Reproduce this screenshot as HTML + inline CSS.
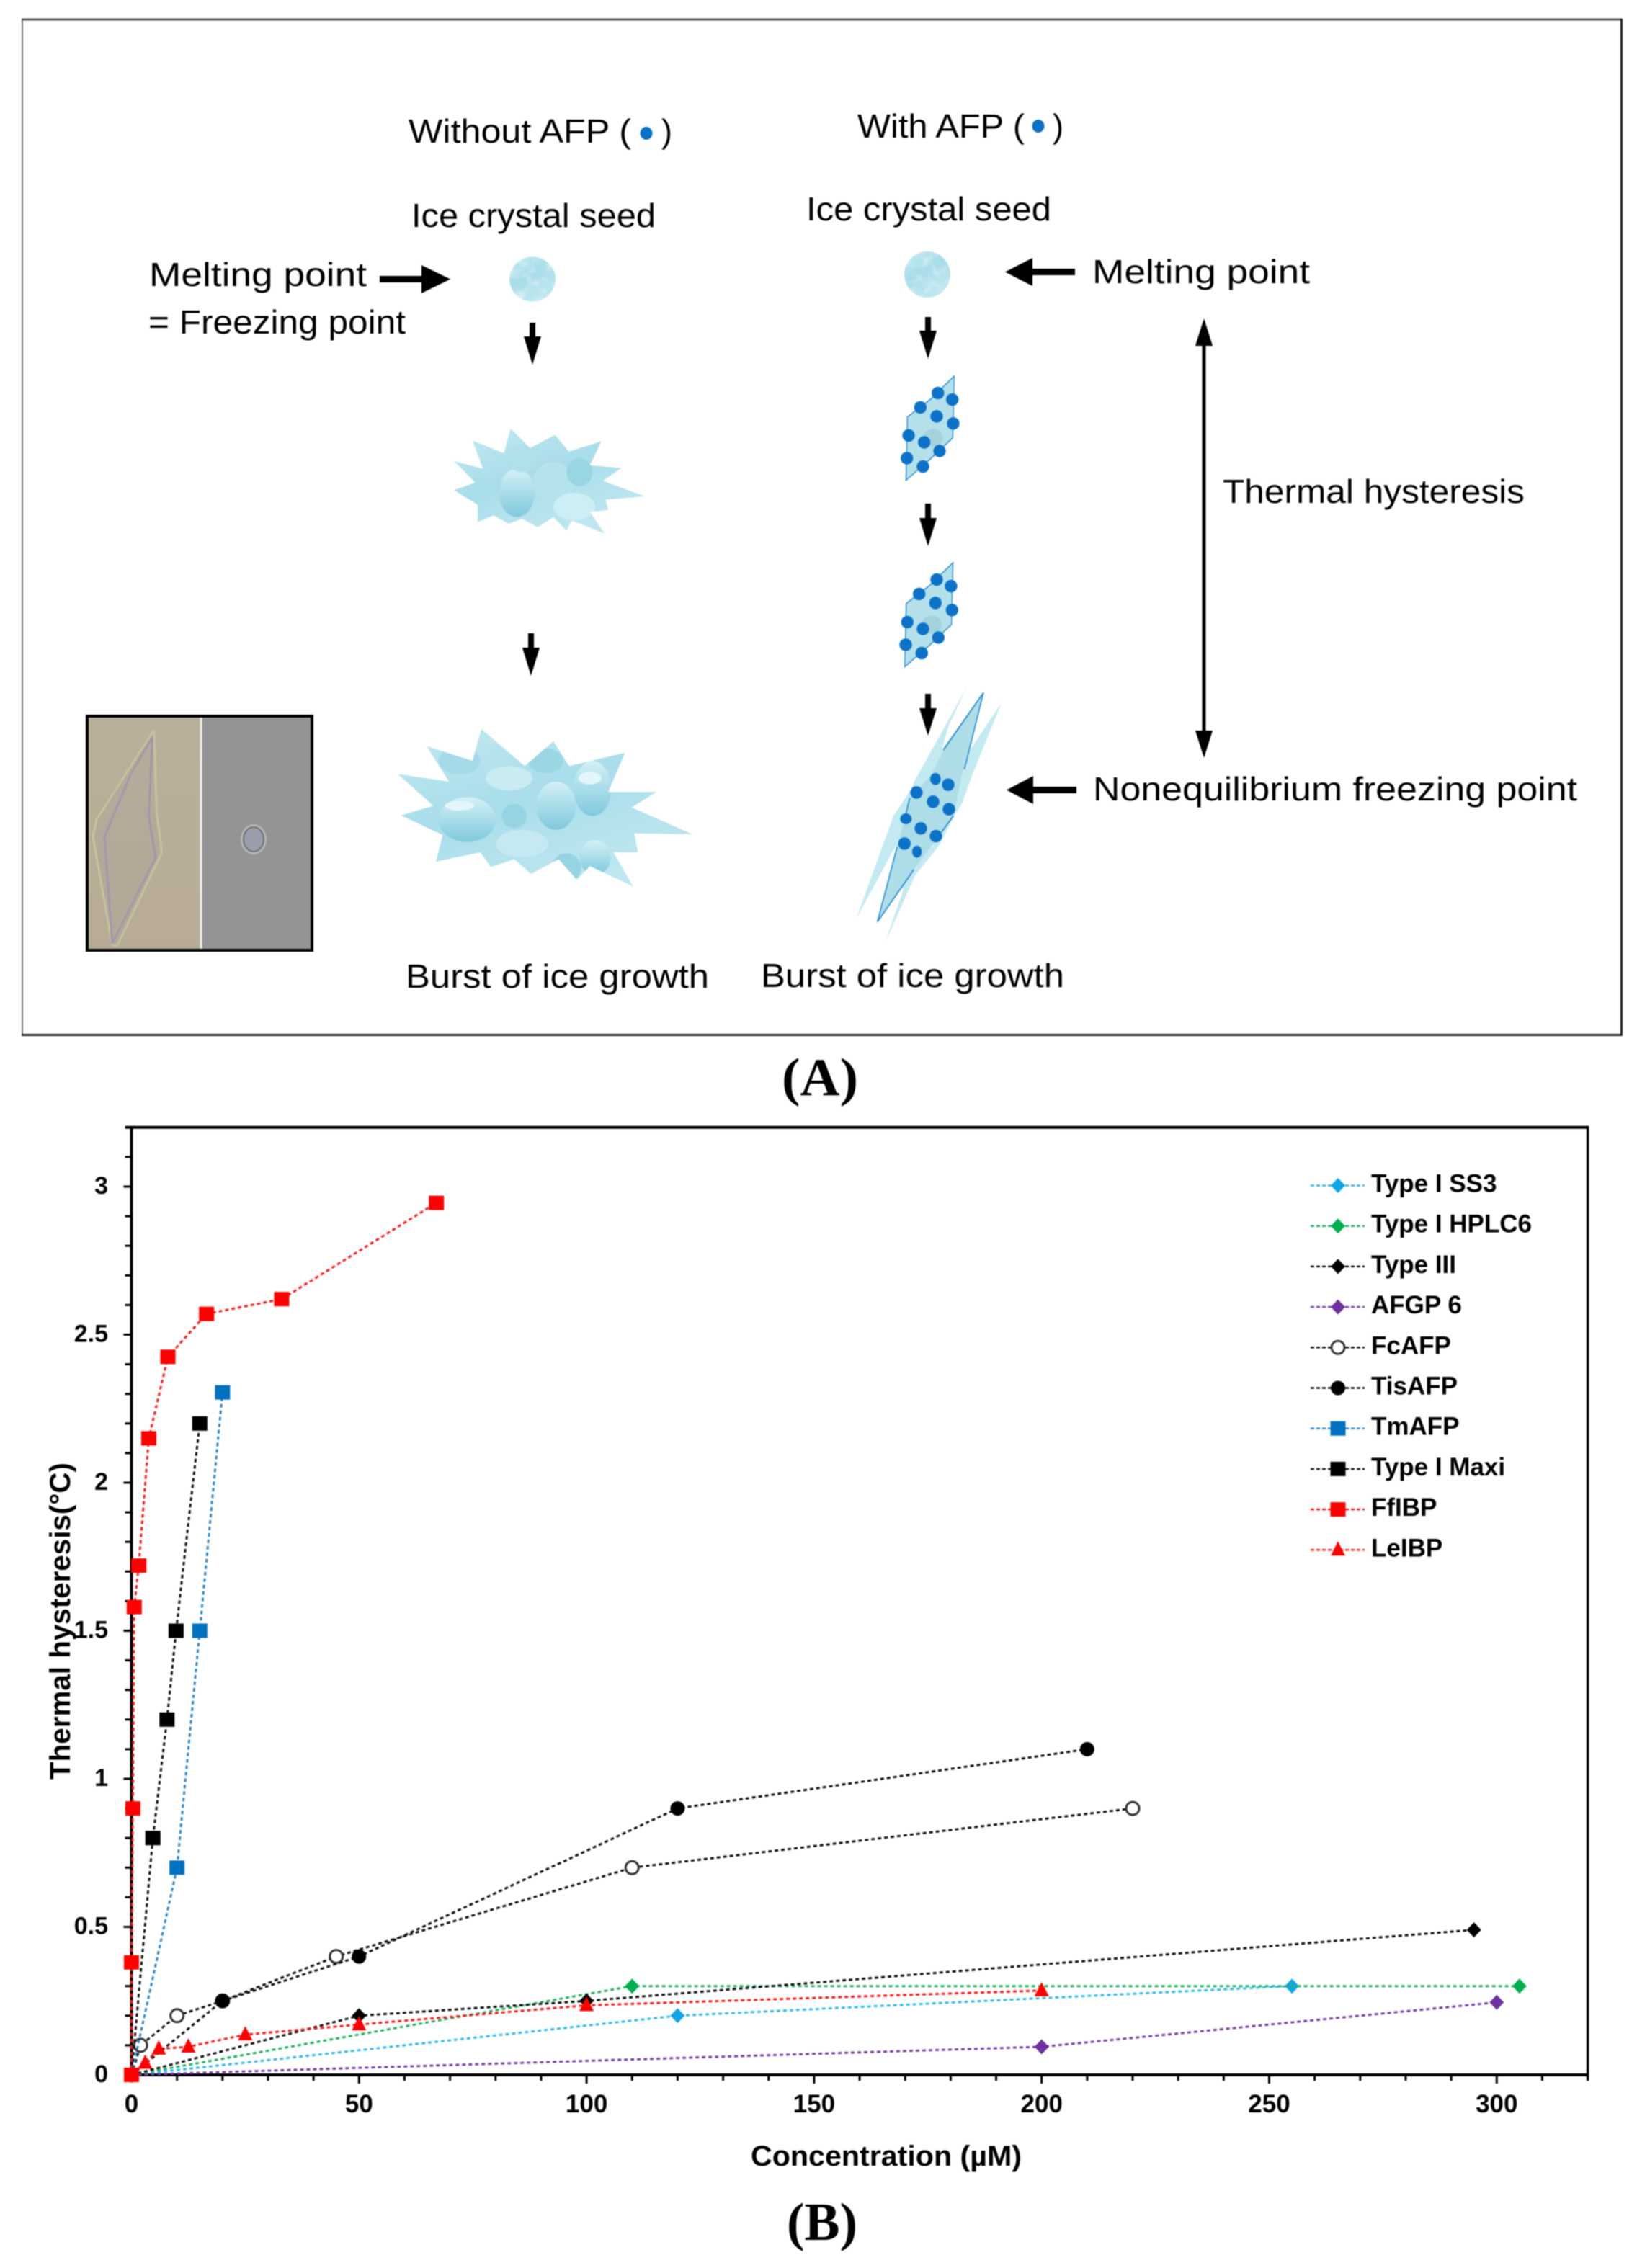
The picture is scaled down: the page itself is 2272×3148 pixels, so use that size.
<!DOCTYPE html>
<html lang="en">
<head>
<meta charset="utf-8">
<title>Antifreeze protein thermal hysteresis</title>
<style>
html,body{margin:0;padding:0;background:#fff;width:2272px;height:3148px;overflow:hidden}
svg{display:block;filter:blur(.7px)}
.cal{font-family:"Liberation Sans",sans-serif;font-size:46px;fill:#000}
.ax{font-family:"Liberation Sans",sans-serif;font-weight:bold;fill:#000}
.ser{font-family:"Liberation Serif",serif;font-weight:bold;font-size:74px;fill:#000}
</style>
</head>
<body>
<svg id="fig" xmlns="http://www.w3.org/2000/svg" width="2272" height="3148" viewBox="0 0 2272 3148">
<defs>
<linearGradient id="ice" x1="0" y1="0" x2="0.6" y2="1"><stop offset="0" stop-color="#c4eaf2"/><stop offset=".5" stop-color="#a8dde9"/><stop offset="1" stop-color="#bfe7f0"/></linearGradient>
<linearGradient id="drop" x1="0" y1="0" x2="0" y2="1"><stop offset="0" stop-color="#d3f0f6"/><stop offset="1" stop-color="#7fc9dc"/></linearGradient>
<linearGradient id="tan" x1="0" y1="0" x2="0" y2="1"><stop offset="0" stop-color="#b8b09a"/><stop offset="1" stop-color="#b8ab95"/></linearGradient>
<filter id="mottle" x="0" y="0" width="100%" height="100%">
  <feTurbulence type="fractalNoise" baseFrequency="0.07" numOctaves="2" seed="4" result="n"/>
  <feColorMatrix in="n" type="matrix" values="0 0 0 0 1  0 0 0 0 1  0 0 0 0 1  0 0 0 1.1 -0.5" result="w"/>
  <feComposite in="w" in2="SourceAlpha" operator="in" result="wc"/>
  <feMerge><feMergeNode in="SourceGraphic"/><feMergeNode in="wc"/></feMerge>
</filter>
<clipPath id="smallClip"><polygon points="978,1243 1015,1300 1063,1262 1090,1310 1152,1280 1130,1350 1190,1358 1155,1395 1235,1440 1160,1450 1165,1480 1130,1485 1158,1548 1095,1510 1085,1540 1060,1500 1030,1530 1000,1505 975,1520 945,1495 915,1515 915,1465 870,1422 910,1400 870,1338 925,1360 905,1278 965,1315"/></clipPath>
<clipPath id="bigClip"><polygon points="762,678 860,700 817,597 905,640 922,547 1005,655 1060,583 1090,655 1197,616 1165,730 1257,730 1210,775 1327,853 1215,850 1222,905 1175,905 1213,1005 1130,945 1105,985 1070,925 1017,968 985,925 940,948 920,905 835,932 848,855 768,798 830,770"/></clipPath>
<g id="afpCrystal">
  <polygon points="518,243 512,450 420,520 317,592 323,380 420,320" fill="#b3e0e9" stroke="#2f8fd6" stroke-width="4"/>
  <ellipse cx="430" cy="450" rx="40" ry="30" fill="#a3d2db"/>
  <g fill="#0b72c8">
    <ellipse cx="450" cy="300" rx="26" ry="21"/><ellipse cx="510" cy="322" rx="26" ry="21"/>
    <ellipse cx="377" cy="348" rx="26" ry="21"/><ellipse cx="445" cy="378" rx="26" ry="21"/>
    <ellipse cx="514" cy="402" rx="26" ry="21"/><ellipse cx="328" cy="442" rx="26" ry="21"/>
    <ellipse cx="393" cy="465" rx="26" ry="21"/><ellipse cx="457" cy="494" rx="26" ry="21"/>
    <ellipse cx="321" cy="518" rx="26" ry="21"/><ellipse cx="388" cy="546" rx="26" ry="21"/>
  </g>
</g>
</defs>

<g id="panel-a">
  <rect x="31" y="27" width="2219" height="1409" fill="#fff"/>
  <line x1="31" y1="26" x2="31" y2="1437" stroke="#777" stroke-width="2"/>
  <line x1="30" y1="27" x2="2251" y2="27" stroke="#555" stroke-width="3"/>
  <line x1="2250.5" y1="26" x2="2250.5" y2="1438" stroke="#222" stroke-width="3"/>
  <line x1="30" y1="1436.5" x2="2252" y2="1436.5" stroke="#222" stroke-width="3"/>

  <text class="cal" x="567" y="198" textLength="309" lengthAdjust="spacingAndGlyphs">Without AFP (</text>
  <ellipse cx="897" cy="185" rx="8.5" ry="9" fill="#0b72c8"/>
  <text class="cal" x="918" y="198" textLength="15" lengthAdjust="spacingAndGlyphs">)</text>

  <text class="cal" x="1190" y="191" textLength="232" lengthAdjust="spacingAndGlyphs">With AFP (</text>
  <ellipse cx="1441" cy="175" rx="8.5" ry="9" fill="#0b72c8"/>
  <text class="cal" x="1461" y="191" textLength="15" lengthAdjust="spacingAndGlyphs">)</text>

  <text class="cal" x="571" y="315" textLength="339" lengthAdjust="spacingAndGlyphs">Ice crystal seed</text>
  <text class="cal" x="1119" y="306" textLength="340" lengthAdjust="spacingAndGlyphs">Ice crystal seed</text>
  <text class="cal" x="207" y="397" textLength="302" lengthAdjust="spacingAndGlyphs">Melting point</text>
  <text class="cal" x="206" y="463" textLength="357" lengthAdjust="spacingAndGlyphs">= Freezing point</text>
  <text class="cal" x="1516" y="393" textLength="302" lengthAdjust="spacingAndGlyphs">Melting point</text>
  <text class="cal" x="1697" y="698" textLength="419" lengthAdjust="spacingAndGlyphs">Thermal hysteresis</text>
  <text class="cal" x="1517" y="1111" textLength="672" lengthAdjust="spacingAndGlyphs">Nonequilibrium freezing point</text>
  <text class="cal" x="563" y="1371" textLength="421" lengthAdjust="spacingAndGlyphs">Burst of ice growth</text>
  <text class="cal" x="1056" y="1370" textLength="421" lengthAdjust="spacingAndGlyphs">Burst of ice growth</text>

  <polygon points="527,383 585,383 585,368 625,387.5 585,407 585,392 527,392" fill="#000"/>
  <polygon points="1492,373 1433,373 1433,358 1395,377.5 1433,397 1433,382 1492,382" fill="#000"/>
  <polygon points="1494,1092 1434,1092 1434,1077 1397,1096.5 1434,1116 1434,1101 1494,1101" fill="#000"/>
  <polygon points="1671,442 1683,480 1673.5,480 1673.5,1014 1683,1014 1671,1052 1659,1014 1668.5,1014 1668.5,480 1659,480" fill="#000"/>

  <polygon points="735,448 743,448 743,467 751,467 739,506 727,467 735,467" fill="#000"/>
  <polygon points="733,879 741,879 741,899 749,899 737,938 725,899 733,899" fill="#000"/>
  <polygon points="1284,440 1292,440 1292,459 1300,459 1288,498 1276,459 1284,459" fill="#000"/>
  <polygon points="1284,699 1292,699 1292,719 1300,719 1288,758 1276,719 1284,719" fill="#000"/>
  <polygon points="1284,963 1292,963 1292,983 1300,983 1288,1021 1276,983 1284,983" fill="#000"/>

  <ellipse cx="739" cy="387.5" rx="32" ry="31" fill="url(#ice)" filter="url(#mottle)"/>
  <ellipse cx="1287" cy="381" rx="32" ry="32" fill="url(#ice)" filter="url(#mottle)"/>

  <g transform="scale(.7246,.4784)" clip-path="url(#smallClip)">
    <rect x="860" y="1240" width="380" height="310" fill="url(#ice)"/>
    <ellipse cx="990" cy="1430" rx="34" ry="70" fill="url(#drop)"/>
    <ellipse cx="1060" cy="1400" rx="40" ry="60" fill="#b6e2ec"/>
    <ellipse cx="1100" cy="1470" rx="40" ry="40" fill="#cdeef4"/>
    <ellipse cx="1000" cy="1330" rx="30" ry="40" fill="#b0e0ea"/>
    <ellipse cx="1110" cy="1370" rx="25" ry="40" fill="#98d6e4"/>
  </g>

  <g transform="translate(0,750) scale(.7246,.4784)" clip-path="url(#bigClip)">
    <rect x="755" y="540" width="580" height="470" fill="url(#ice)"/>
    <ellipse cx="880" cy="640" rx="40" ry="40" fill="#a5dbe8"/>
    <ellipse cx="1045" cy="640" rx="34" ry="36" fill="#9ad6e4"/>
    <ellipse cx="975" cy="690" rx="45" ry="35" fill="#c9ebf2"/>
    <ellipse cx="1000" cy="880" rx="50" ry="40" fill="#c5e9f1"/>
    <ellipse cx="895" cy="810" rx="55" ry="65" fill="url(#drop)"/>
    <ellipse cx="1065" cy="770" rx="38" ry="70" fill="url(#drop)"/>
    <ellipse cx="1135" cy="720" rx="36" ry="80" fill="url(#drop)"/>
    <ellipse cx="985" cy="800" rx="24" ry="35" fill="#96d4e3"/>
    <ellipse cx="1140" cy="920" rx="30" ry="50" fill="url(#drop)"/>
    <ellipse cx="1085" cy="950" rx="28" ry="42" fill="#96d4e3"/>
    <ellipse cx="1130" cy="690" rx="22" ry="18" fill="#e4f6f9"/>
    <ellipse cx="880" cy="770" rx="28" ry="14" fill="#e4f6f9"/>
  </g>

  <use href="#afpCrystal" transform="translate(1151.7,421) scale(.3333,.415)"/>
  <use href="#afpCrystal" transform="translate(1150,680) scale(.3333,.415)"/>

  <g transform="translate(1150,680) scale(.3333,.415)">
    <polygon points="575,660 500,790 470,870 640,680 580,880 720,712 600,950 555,1050 520,1095 460,1190 360,1290 235,1515 310,1340 280,1190 115,1435 270,1090 345,1000 360,970" fill="#c4eaf1"/>
    <polygon points="645,678 478,870 430,950 340,1030 320,1090 285,1195 203,1445 355,1270 470,1145 520,1090 560,935" fill="#addde6"/>
    <path d="M478,870 L645,678 L565,935 M285,1195 L203,1445 L355,1270 M320,1090 L338,1030 M520,1090 L470,1145" fill="none" stroke="#2f8fd6" stroke-width="5"/>
    <g fill="#0b72c8">
      <ellipse cx="445" cy="967" rx="22" ry="20"/><ellipse cx="498" cy="986" rx="26" ry="21"/>
      <ellipse cx="366" cy="1012" rx="26" ry="21"/><ellipse cx="435" cy="1043" rx="26" ry="21"/>
      <ellipse cx="501" cy="1068" rx="26" ry="21"/><ellipse cx="322" cy="1100" rx="24" ry="18"/>
      <ellipse cx="384" cy="1132" rx="26" ry="21"/><ellipse cx="447" cy="1158" rx="26" ry="21"/>
      <ellipse cx="316" cy="1183" rx="26" ry="21"/><ellipse cx="368" cy="1210" rx="20" ry="20"/>
    </g>
  </g>

  <g>
    <rect x="121" y="994" width="158" height="325" fill="url(#tan)"/>
    <rect x="279" y="994" width="154" height="325" fill="#949494"/>
    <line x1="279" y1="994" x2="279" y2="1319" stroke="#f0efe8" stroke-width="3"/>
    <polygon transform="translate(0,750) scale(.7246,.4784)" points="295,550 185,810 178,860 215,1175 225,1175 310,905 300,790" fill="#ada39f" fill-opacity=".35" stroke="#c6c49a" stroke-width="4"/>
    <polyline transform="translate(0,750) scale(.7246,.4784)" points="292,570 285,800 298,920 215,1170 200,860 250,680 292,570" fill="none" stroke="#a397ab" stroke-width="4"/>
    <ellipse cx="352" cy="1165" rx="18" ry="21" fill="#b5b5b5" stroke="none"/>
    <ellipse cx="352" cy="1165" rx="14" ry="17" fill="#9a9db0" stroke="#6f6f6f" stroke-width="2"/>
    <rect x="121" y="994" width="312" height="325" fill="none" stroke="#000" stroke-width="4"/>
  </g>

  <text class="ser" x="1085" y="1520" textLength="106" lengthAdjust="spacingAndGlyphs">(A)</text>
</g>

<g id="panel-b"></g>
<text class="ser" x="1092" y="3109" textLength="98" lengthAdjust="spacingAndGlyphs">(B)</text>
</svg>

<script>
// Chart values
const xTickLabels = [0, 50, 100, 150, 200, 250, 300];
const yTickLabels = [0, 0.5, 1, 1.5, 2, 2.5, 3];
const xMinorStep = 10;
const yMinorStep = 0.1;
const xMax = 320;
const yMax = 3.2;

const seriesNames = ['Type I SS3', 'Type I HPLC6', 'Type III', 'AFGP 6', 'FcAFP', 'TisAFP', 'TmAFP', 'Type I Maxi', 'FfIBP', 'LeIBP'];

const ss3X = [0, 120, 255];
const ss3Y = [0, 0.2, 0.3];
const hplc6X = [0, 110, 305];
const hplc6Y = [0, 0.3, 0.3];
const type3X = [0, 50, 100, 295];
const type3Y = [0, 0.2, 0.25, 0.49];
const afgp6X = [0, 200, 300];
const afgp6Y = [0, 0.095, 0.245];
const fcafpX = [0, 2, 10, 20, 45, 110, 220];
const fcafpY = [0, 0.1, 0.2, 0.25, 0.4, 0.7, 0.9];
const tisafpX = [0, 20, 50, 120, 210];
const tisafpY = [0, 0.25, 0.4, 0.9, 1.1];
const tmafpX = [0, 10, 15, 20];
const tmafpY = [0, 0.7, 1.5, 2.305];
const maxiX = [0, 4.7, 7.8, 9.8, 15];
const maxiY = [0, 0.8, 1.2, 1.5, 2.2];
const ffibpX = [0, 0, 0.3, 0.6, 1.6, 3.8, 8, 16.5, 33, 67];
const ffibpY = [0, 0.38, 0.9, 1.58, 1.72, 2.15, 2.425, 2.57, 2.62, 2.945];
const leibpX = [0, 3, 6, 12.5, 25, 50, 100, 200];
const leibpY = [0, 0.04, 0.088, 0.095, 0.136, 0.17, 0.235, 0.285];

const seriesX = [ss3X, hplc6X, type3X, afgp6X, fcafpX, tisafpX, tmafpX, maxiX, ffibpX, leibpX];
const seriesY = [ss3Y, hplc6Y, type3Y, afgp6Y, fcafpY, tisafpY, tmafpY, maxiY, ffibpY, leibpY];

// Styling, kept separate from the data
const lineColors = ['#2fbcf2', '#1fb45f', '#111', '#7a3fb0', '#111', '#111', '#2a86d0', '#111', '#ff1a1a', '#ff1a1a'];
const markColors = ['#12a5e6', '#00b050', '#000', '#7030a0', '#fff', '#000', '#0070c0', '#000', '#ff0000', '#ff0000'];
const markShapes = ['diamond', 'diamond', 'diamond', 'diamond', 'ring', 'circle', 'square', 'square', 'square', 'triangle'];
const drawOrder = [0, 1, 3, 2, 4, 5, 6, 7, 9, 8];

const SVGNS = 'http://www.w3.org/2000/svg';
const root = document.getElementById('panel-b');
const X0 = 182.5, XS = 6.316, Y0 = 2880, YS = 411;
const xAxis = v => X0 + XS * v;
const yAxis = v => Y0 - YS * v;

function make(tag, attrs, parent) {
  const e = document.createElementNS(SVGNS, tag);
  for (const k in attrs) e.setAttribute(k, attrs[k]);
  (parent || root).appendChild(e);
  return e;
}

function marker(shape, color, cx, cy, parent) {
  let m;
  if (shape === 'diamond') {
    m = make('polygon', {points: [cx, cy - 10.5, cx + 10, cy, cx, cy + 10.5, cx - 10, cy].join(','), fill: color}, parent);
  } else if (shape === 'ring') {
    m = make('circle', {cx: cx, cy: cy, r: 9, fill: '#fff', stroke: '#333', 'stroke-width': 3}, parent);
  } else if (shape === 'circle') {
    m = make('circle', {cx: cx, cy: cy, r: 10, fill: color}, parent);
  } else if (shape === 'square') {
    m = make('rect', {x: cx - 10.5, y: cy - 10, width: 21, height: 20, fill: color}, parent);
  } else {
    m = make('polygon', {points: [cx, cy - 12, cx + 10, cy + 8, cx - 10, cy + 8].join(','), fill: color}, parent);
  }
  return m;
}

// Frame
const frame = make('g', {});


const topLine = make('line', {x1: 174, y1: yAxis(yMax), x2: xAxis(xMax), y2: yAxis(yMax), stroke: '#000', 'stroke-width': 4}, frame);


const rightLine = make('line', {x1: xAxis(xMax), y1: yAxis(yMax) - 2, x2: xAxis(xMax), y2: Y0 + 8, stroke: '#000', 'stroke-width': 3.5}, frame);


const xLine = make('line', {x1: X0 - 2, y1: Y0, x2: xAxis(xMax), y2: Y0, stroke: '#000', 'stroke-width': 4}, frame);


const yLine = make('line', {x1: X0, y1: yAxis(yMax), x2: X0, y2: Y0 + 2, stroke: '#000', 'stroke-width': 4}, frame);



// Ticks
for (let i = 1; i * xMinorStep <= xMax; i++) {
  const v = i * xMinorStep;
  const major = xTickLabels.includes(v);
  const t = make('line', {x1: xAxis(v), y1: Y0, x2: xAxis(v), y2: Y0 + (major ? 12 : 8), stroke: '#000', 'stroke-width': 3}, frame);
  
  
}
for (let i = 1; i * yMinorStep <= yMax + 1e-6; i++) {
  const v = i * yMinorStep;
  const major = yTickLabels.some(l => Math.abs(l - v) < 1e-6);
  const t = make('line', {x1: X0, y1: yAxis(v), x2: X0 - (major ? 11 : 9), y2: yAxis(v), stroke: '#000', 'stroke-width': 3}, frame);
  
  
}
xTickLabels.forEach(v => {
  const t = make('text', {class: 'ax', x: xAxis(v), y: 2932, 'text-anchor': 'middle', 'font-size': 35});
  t.textContent = String(v);
  
  
});
yTickLabels.forEach(v => {
  const t = make('text', {class: 'ax', x: 150, y: yAxis(v) + 10, 'text-anchor': 'end', 'font-size': 34});
  t.textContent = String(v);
  
  
});

// Axis titles
const xTitle = make('text', {class: 'ax', x: 1042, y: 3006, 'font-size': 40, textLength: 376, lengthAdjust: 'spacingAndGlyphs'});
xTitle.textContent = 'Concentration (\u00b5M)';


const yTitle = make('text', {class: 'ax', transform: 'translate(97,2470) rotate(-90)', 'font-size': 40, textLength: 440, lengthAdjust: 'spacingAndGlyphs'});
yTitle.textContent = 'Thermal hysteresis(\u00b0C)';



// Series
drawOrder.forEach(i => {
  const g = make('g', {});
  
  
  const pts = seriesX[i].map((x, k) => xAxis(x) + ',' + yAxis(seriesY[i][k])).join(' ');
  const line = make('polyline', {points: pts, fill: 'none', stroke: lineColors[i], 'stroke-width': 3, 'stroke-dasharray': '5 4'}, g);
  
  
  seriesX[i].forEach((x, k) => {
    const m = marker(markShapes[i], markColors[i], xAxis(x), yAxis(seriesY[i][k]), g);
    
    
  });
});

// Legend
const legend = make('g', {});


seriesNames.forEach((name, i) => {
  const rowY = 1645.5 + i * 56.2;
  const row = make('g', {}, legend);
  
  
  const line = make('line', {x1: 1819, y1: rowY, x2: 1894, y2: rowY, stroke: lineColors[i], 'stroke-width': 2.5, 'stroke-dasharray': '5 3'}, row);
  
  
  const m = marker(markShapes[i], markColors[i], 1857, rowY, row);
  
  
  const t = make('text', {class: 'ax', x: 1903, y: rowY + 9, 'font-size': 35}, row);
  t.textContent = name;
  
  
});
</script>
</body>
</html>
